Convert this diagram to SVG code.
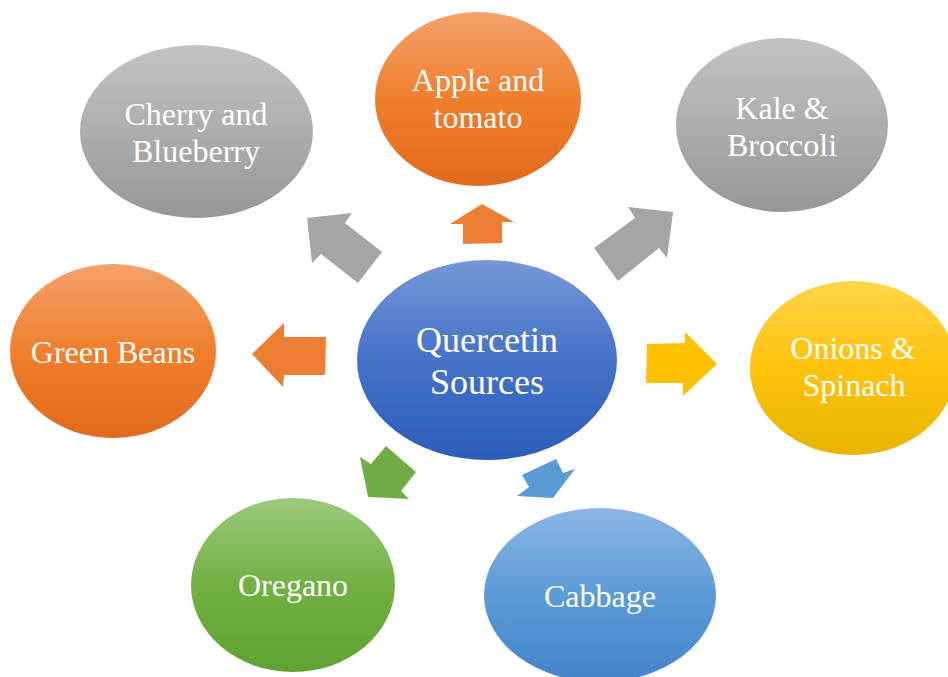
<svg xmlns="http://www.w3.org/2000/svg" width="948" height="677" viewBox="0 0 948 677">
<defs>
<linearGradient id="gGray" x1="0" y1="0" x2="0" y2="1"><stop offset="0" stop-color="#c3c3c3"/><stop offset="1" stop-color="#979797"/></linearGradient>
<linearGradient id="gOrange" x1="0" y1="0" x2="0" y2="1"><stop offset="0" stop-color="#f3a26c"/><stop offset="0.5" stop-color="#f07f2c"/><stop offset="1" stop-color="#e2691b"/></linearGradient>
<linearGradient id="gBlue" x1="0" y1="0" x2="0" y2="1"><stop offset="0" stop-color="#7698d8"/><stop offset="0.5" stop-color="#4472c8"/><stop offset="1" stop-color="#2c5dba"/></linearGradient>
<linearGradient id="gYellow" x1="0" y1="0" x2="0" y2="1"><stop offset="0" stop-color="#ffd548"/><stop offset="0.5" stop-color="#ffc20a"/><stop offset="1" stop-color="#e7b400"/></linearGradient>
<linearGradient id="gGreen" x1="0" y1="0" x2="0" y2="1"><stop offset="0" stop-color="#9dca7b"/><stop offset="0.5" stop-color="#72b043"/><stop offset="1" stop-color="#5ea332"/></linearGradient>
<linearGradient id="gLBlue" x1="0" y1="0" x2="0" y2="1"><stop offset="0" stop-color="#8db6e2"/><stop offset="0.5" stop-color="#5b9bd8"/><stop offset="1" stop-color="#4283ca"/></linearGradient>
</defs>
<style>
text{font-family:"Liberation Serif","Times New Roman",serif;fill:#ffffff;text-anchor:middle;font-size:32px}
.big{font-size:36px}
</style>
<g id="connectors">
<polygon points="307,218 352,213 345,223 382,252 358,283 321,254 312,263" fill="#a5a5a5"/>
<polygon points="482,204 514,222 502,222 502,243 463,244 463,224 450,224" fill="#ed7d31"/>
<polygon points="673,212 667,258 659,248 618,281 594,248 635,218 628,207" fill="#a5a5a5"/>
<polygon points="252,354 284,323 284,337 326,337 325,375 284,375 283,387" fill="#ed7d31"/>
<polygon points="647,344 685,343 685,332 717,364 683,396 683,383 646,383" fill="#ffc000"/>
<polygon points="360,457 371,464 386,446 416,472 401,491 409,499 368,497" fill="#70ad47"/>
<polygon points="522,475 556,459 563,473 575,469 553,498 517,496 529,487" fill="#5b9bd5"/>
</g>
<g id="center">
<ellipse cx="487" cy="360" rx="130" ry="100" fill="url(#gBlue)"/>
<text class="big" x="487" y="352">Quercetin</text>
<text class="big" x="487" y="394">Sources</text>
</g>
<g id="cherry">
<ellipse cx="196.5" cy="131.5" rx="116.5" ry="86.5" fill="url(#gGray)"/>
<text x="196" y="125">Cherry and</text>
<text x="196" y="162">Blueberry</text>
</g>
<g id="apple">
<ellipse cx="478" cy="99" rx="103" ry="87" fill="url(#gOrange)"/>
<text x="478" y="91">Apple and</text>
<text x="478" y="128">tomato</text>
</g>
<g id="kale">
<ellipse cx="782" cy="125" rx="106" ry="87" fill="url(#gGray)"/>
<text x="782" y="119">Kale &amp;</text>
<text x="782" y="156">Broccoli</text>
</g>
<g id="greenbeans">
<ellipse cx="113" cy="351" rx="103" ry="87" fill="url(#gOrange)"/>
<text x="113" y="363">Green Beans</text>
</g>
<g id="onions">
<ellipse cx="853" cy="368" rx="103" ry="87" fill="url(#gYellow)"/>
<text x="853" y="359">Onions &amp;</text>
<text x="854" y="396">Spinach</text>
</g>
<g id="oregano">
<ellipse cx="293" cy="585" rx="102" ry="87" fill="url(#gGreen)"/>
<text x="293" y="596">Oregano</text>
</g>
<g id="cabbage">
<ellipse cx="600" cy="595" rx="116" ry="87" fill="url(#gLBlue)"/>
<text x="600" y="607">Cabbage</text>
</g>
</svg>
